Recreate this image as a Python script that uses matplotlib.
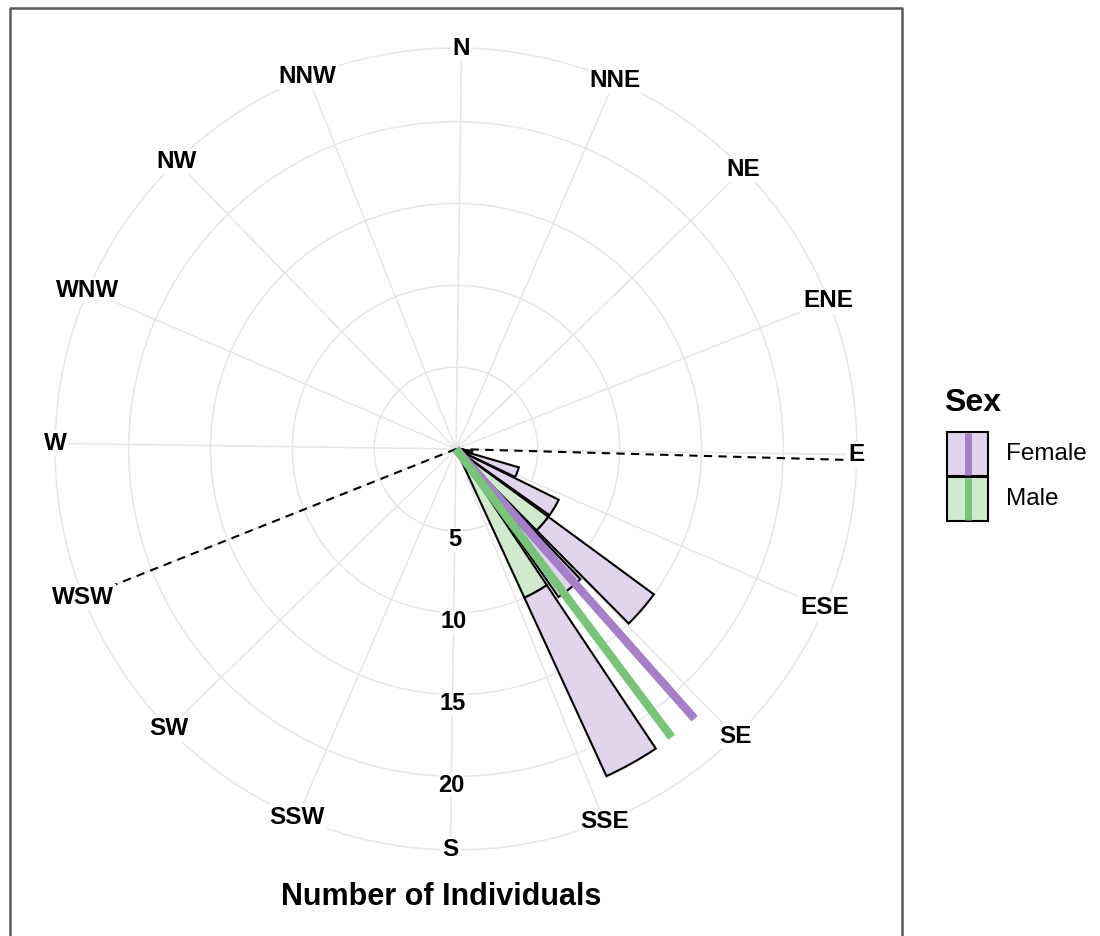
import numpy as np
import matplotlib
matplotlib.use("Agg")
import matplotlib.pyplot as plt
from matplotlib.patches import Rectangle
from matplotlib.lines import Line2D

plt.rcParams['font.family'] = ['Liberation Sans', 'DejaVu Sans']

# ---------------- data ----------------
directions = ['N', 'NNE', 'NE', 'ENE', 'E', 'ESE', 'SE', 'SSE',
              'S', 'SSW', 'SW', 'WSW', 'W', 'WNW', 'NW', 'NNW']
direction_angles = [0, 22.5, 45, 67.5, 90, 112.5, 135, 157.5,
                    180, 202.5, 225, 247.5, 270, 292.5, 315, 337.5]
bin_centers = [100, 110, 120, 130, 140, 150]      # degrees (bearing)
male_counts = [0, 0, 0, 7, 6, 10]
female_counts = [1, 4, 7, 8, 5, 12]
mean_dir_female = 137.7
mean_dir_male = 142.4
mean_len = 22
dashed_dirs = [90.8, 247.5]
r_breaks = [5, 10, 15, 20]
sexes = ['Female', 'Male']

female_fill = '#E1D5EE'
male_fill = '#D0EACE'
female_line = '#A580C8'
male_line = '#79C37A'
grid_color = '#E6E6E6'

# ---------------- figure ----------------
W, H = 1100, 936
fig = plt.figure(figsize=(W / 100, H / 100), dpi=100)
cx, cy, R = 456, 449, 401
rmax = 24.5
ax = fig.add_axes([(cx - R) / W, (H - (cy + R)) / H, 2 * R / W, 2 * R / H],
                  projection='polar')
ax.set_theta_zero_location('N', offset=-0.8)   # slight tilt as in the scan
ax.set_theta_direction(-1)
ax.set_ylim(0, rmax)
ax.set_thetagrids(direction_angles, labels=[''] * len(direction_angles))
ax.set_rgrids(r_breaks, labels=[''] * len(r_breaks))
ax.grid(True, color=grid_color, lw=1.1)
ax.spines['polar'].set_color(grid_color)
ax.spines['polar'].set_linewidth(1.1)
ax.tick_params(length=0)
ax.set_axisbelow(True)

# dashed reference lines
for d in dashed_dirs:
    ax.plot([np.deg2rad(d)] * 2, [0, rmax], color='black', lw=1.5,
            ls=(0, (4, 3)), zorder=2)

# stacked bars (male at base, female on top)
th = np.deg2rad(bin_centers)
width = np.deg2rad(9)
male = np.array(male_counts, dtype=float)
female = np.array(female_counts, dtype=float)
mm = male > 0
ax.bar(th[mm], male[mm], width=width, color=male_fill, edgecolor='black',
       lw=1.5, zorder=3)
fm = female > 0
ax.bar(th[fm], female[fm], bottom=male[fm], width=width, color=female_fill,
       edgecolor='black', lw=1.5, zorder=3)

# mean direction lines
ax.plot([np.deg2rad(mean_dir_female)] * 2, [0, mean_len], color=female_line,
        lw=6, solid_capstyle='butt', zorder=4)
ax.plot([np.deg2rad(mean_dir_male)] * 2, [0, mean_len], color=male_line,
        lw=6, solid_capstyle='butt', zorder=4)

# compass labels
for ang, lab in zip(direction_angles, directions):
    ax.text(np.deg2rad(ang), rmax, lab, ha='center', va='center',
            fontsize=17.5, fontweight='bold', zorder=6, clip_on=False,
            bbox=dict(facecolor='white', edgecolor='none', pad=1.0))

# radial labels
for v in r_breaks:
    ax.text(np.pi, v + 0.55, str(v), ha='center', va='center', fontsize=17,
            fontweight='bold', zorder=6,
            bbox=dict(facecolor='white', edgecolor='none', pad=0.3))

# axis title
fig.text(441 / W, 1 - 897 / H, 'Number of Individuals', ha='center',
         va='center', fontsize=22, fontweight='bold')

# legend (drawn manually)
fig.text(944 / W, 1 - 403 / H, 'Sex', ha='left', va='center', fontsize=23,
         fontweight='bold')
fills = [female_fill, male_fill]
lines = [female_line, male_line]
tops = [432, 477]
for s, f, l, t in zip(sexes, fills, lines, tops):
    fig.add_artist(Rectangle((947 / W, 1 - (t + 44) / H), 41 / W, 44 / H,
                             transform=fig.transFigure, facecolor=f,
                             edgecolor='black', lw=1.5))
    fig.add_artist(Line2D([968 / W] * 2, [1 - (t + 1) / H, 1 - (t + 43) / H],
                          transform=fig.transFigure, color=l, lw=5,
                          solid_capstyle='butt'))
    fig.text(1006 / W, 1 - (t + 22) / H, s, ha='left', va='center',
             fontsize=17.5)

# panel frame
fig.add_artist(Line2D([10 / W, 10 / W, 902 / W, 902 / W],
                      [0, 1 - 8 / H, 1 - 8 / H, 0],
                      transform=fig.transFigure, color='#5a5a5a', lw=1.8))

fig.savefig('out.png', dpi=100)
